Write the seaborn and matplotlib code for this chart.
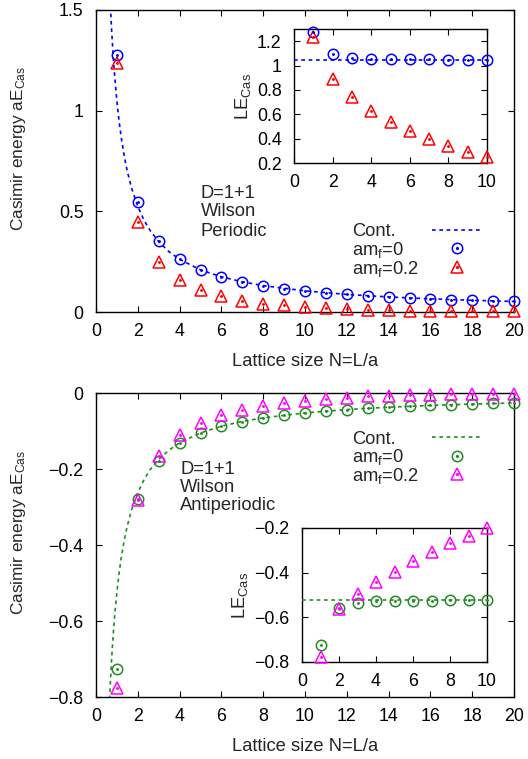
import numpy as np
import pandas as pd
import matplotlib
matplotlib.use("Agg")
import matplotlib.pyplot as plt
import seaborn as sns
from matplotlib.lines import Line2D

# ---------------- data ----------------
N = list(range(1, 21))
N_inset = list(range(1, 11))

# Periodic: L*E_Cas (inset values) and E_Cas
per_LE_m0 = [1.276, 1.096, 1.066, 1.057, 1.053, 1.051, 1.050, 1.049, 1.049, 1.048]
per_LE_m02 = [1.235, 0.889, 0.738, 0.626, 0.539, 0.460, 0.394, 0.339, 0.293, 0.247]
per_E_m0 = [1.276, 0.548, 0.355, 0.264, 0.211, 0.175, 0.150, 0.131, 0.1165, 0.1048,
            0.0952, 0.0873, 0.0806, 0.0748, 0.0698, 0.0655, 0.0616, 0.0582, 0.0551, 0.0524]
per_E_m02 = [1.235, 0.445, 0.246, 0.157, 0.108, 0.077, 0.056, 0.042, 0.033, 0.025,
             0.019, 0.015, 0.012, 0.0093, 0.0073, 0.0059, 0.0047, 0.0038, 0.0031, 0.0025]

# Antiperiodic
ap_LE_m0 = [-0.725, -0.557, -0.537, -0.529, -0.526, -0.525, -0.525, -0.524, -0.524, -0.524]
ap_LE_m02 = [-0.777, -0.561, -0.496, -0.443, -0.395, -0.349, -0.306, -0.269, -0.234, -0.200]
ap_E_m0 = [-0.725, -0.279, -0.179, -0.132, -0.105, -0.0875, -0.075, -0.0655, -0.0582, -0.0524,
           -0.0476, -0.0437, -0.0403, -0.0374, -0.0349, -0.0327, -0.0308, -0.0291, -0.0276, -0.0262]
ap_E_m02 = [-0.777, -0.281, -0.165, -0.111, -0.079, -0.058, -0.044, -0.034, -0.026, -0.020,
            -0.0155, -0.012, -0.0092, -0.0071, -0.0057, -0.0044, -0.0034, -0.0027, -0.0021, -0.0017]

# Continuum curves (sampled values)
cont_N = [0.65, 0.7, 0.75, 0.8, 0.85, 0.9, 1.0, 1.1, 1.2, 1.3, 1.4, 1.5, 1.7, 2.0, 2.3, 2.6,
          3.0, 3.5, 4.0, 5.0, 6.0, 7.0, 8.0, 10.0, 12.0, 14.0, 16.0, 18.0, 20.0]
cont_per = [1.611, 1.496, 1.396, 1.309, 1.232, 1.164, 1.047, 0.952, 0.873, 0.806, 0.748, 0.698,
            0.616, 0.524, 0.455, 0.403, 0.349, 0.299, 0.262, 0.209, 0.175, 0.150, 0.131,
            0.105, 0.0873, 0.0748, 0.0654, 0.0582, 0.0524]
cont_ap = [-0.806, -0.748, -0.698, -0.654, -0.616, -0.582, -0.524, -0.476, -0.436, -0.403,
           -0.374, -0.349, -0.308, -0.262, -0.228, -0.201, -0.175, -0.150, -0.131, -0.105,
           -0.0873, -0.0748, -0.0654, -0.0524, -0.0436, -0.0374, -0.0327, -0.0291, -0.0262]
cont_LE_per = 1.047
cont_LE_ap = -0.5236

legend_labels = ['Cont.', 'am$_{\\mathrm{f}}$=0', 'am$_{\\mathrm{f}}$=0.2']

# ---------------- style ----------------
sns.set_theme(style="ticks")
plt.rcParams['font.family'] = ['Liberation Sans', 'DejaVu Sans']
plt.rcParams['mathtext.fontset'] = 'custom'
plt.rcParams['mathtext.rm'] = 'Liberation Sans'
plt.rcParams['mathtext.it'] = 'Liberation Sans:italic'
plt.rcParams['axes.unicode_minus'] = True

FS = 13.2      # text
TFS = 12.8     # tick labels
YFS = 12.4     # y labels
BLUE, RED, GREEN, MAG = '#0000ff', '#ff0000', '#228b22', '#ff00ff'
MS = 7.5
DASH = (0, (2.2, 2.2))

fig = plt.figure(figsize=(5.28, 7.59), dpi=100)
W, H = 528, 759


def rect(x0, y0, x1, y1):
    return [x0 / W, 1 - y1 / H, (x1 - x0) / W, (y1 - y0) / H]


def fx(x):
    return x / W


def fy(y):
    return 1 - y / H


def style_axes(ax, xlim, ylim, xticks, yticks):
    ax.set_xlim(*xlim)
    ax.set_ylim(*ylim)
    ax.set_xticks(xticks)
    ax.set_yticks(yticks)
    ax.tick_params(direction='in', top=True, right=True, length=4, width=0.8,
                   labelsize=TFS, colors='black')
    ax.tick_params(axis='x', pad=8)
    ax.tick_params(axis='y', pad=9)
    for s in ax.spines.values():
        s.set_visible(True)
        s.set_linewidth(1.0)
        s.set_color('black')
    ax.set_facecolor('none')


def fmt(v):
    return ('%g' % v).replace('-', '\u2212')


def draw_points(ax, x, y, color, marker):
    df = pd.DataFrame({'x': x, 'y': y})
    sns.lineplot(data=df, x='x', y='y', ax=ax, linestyle='none', marker=marker,
                 markersize=MS if marker == 'o' else MS + 0.5, markerfacecolor='none',
                 markeredgecolor=color, markeredgewidth=1.1, color=color,
                 legend=False, clip_on=False, zorder=4)
    sns.lineplot(data=df, x='x', y='y', ax=ax, linestyle='none', marker='o',
                 markersize=1.3, markerfacecolor=color, markeredgecolor=color,
                 color=color, legend=False, clip_on=False, zorder=5)


def draw_cont(ax, x, y, color):
    df = pd.DataFrame({'x': x, 'y': y})
    sns.lineplot(data=df, x='x', y='y', ax=ax, color=color, linewidth=1.2,
                 linestyle=DASH, legend=False, zorder=3)


def draw_legend(x_text, y_rows, x_sample, color_line, color_c, color_t):
    # texts (left aligned, baseline at centre + 6.5 px)
    for lab, yc in zip(legend_labels, y_rows):
        fig.text(fx(x_text), fy(yc + 6.5), lab, fontsize=FS, ha='left', va='baseline')
    x0, x1 = x_sample
    xm = 0.5 * (x0 + x1)
    fig.add_artist(Line2D([fx(x0), fx(x1)], [fy(y_rows[0])] * 2, color=color_line,
                          linewidth=1.2, linestyle=DASH, transform=fig.transFigure))
    fig.add_artist(Line2D([fx(xm)], [fy(y_rows[1])], color=color_c, linestyle='none',
                          marker='o', markersize=MS, markerfacecolor='none',
                          markeredgewidth=1.1, transform=fig.transFigure))
    fig.add_artist(Line2D([fx(xm)], [fy(y_rows[1])], color=color_c, linestyle='none',
                          marker='o', markersize=1.3, transform=fig.transFigure))
    fig.add_artist(Line2D([fx(xm)], [fy(y_rows[2])], color=color_t, linestyle='none',
                          marker='^', markersize=MS + 0.5, markerfacecolor='none',
                          markeredgewidth=1.1, transform=fig.transFigure))
    fig.add_artist(Line2D([fx(xm)], [fy(y_rows[2])], color=color_t, linestyle='none',
                          marker='o', markersize=1.3, transform=fig.transFigure))


def draw_block(x_left, y_rows, lines):
    for t, yc in zip(lines, y_rows):
        fig.text(fx(x_left), fy(yc + 6.5), t, fontsize=FS, ha='left', va='baseline')


# ---------------- top main ----------------
ax1 = fig.add_axes(rect(96, 10, 514, 312))
draw_cont(ax1, cont_N, cont_per, BLUE)
draw_points(ax1, N, per_E_m0, BLUE, 'o')
draw_points(ax1, N, per_E_m02, RED, '^')
style_axes(ax1, (0, 20), (0, 1.5), range(0, 21, 2), [0, 0.5, 1, 1.5])
ax1.set_yticklabels(['0', '0.5', '1', '1.5'])
ax1.set_xlabel('Lattice size N=L/a', fontsize=FS, labelpad=9)
ax1.set_ylabel('Casimir energy aE$_{\\mathrm{Cas}}$', fontsize=YFS)
ax1.yaxis.set_label_coords(-0.163, 0.54)
draw_block(201, [191, 210, 229], ['D=1+1', 'Wilson', 'Periodic'])
draw_legend(352, [230, 248.5, 267], (432, 482), BLUE, BLUE, RED)

# ---------------- top inset ----------------
ax1i = fig.add_axes(rect(294, 29, 487, 163))
ax1i.plot([0, 10], [cont_LE_per, cont_LE_per], color=BLUE, linewidth=1.2,
          linestyle=DASH, zorder=3)
draw_points(ax1i, N_inset, per_LE_m0, BLUE, 'o')
draw_points(ax1i, N_inset, per_LE_m02, RED, '^')
style_axes(ax1i, (0, 10), (0.2, 1.3), range(0, 11, 2), [0.2, 0.4, 0.6, 0.8, 1.0, 1.2])
ax1i.set_yticklabels(['0.2', '0.4', '0.6', '0.8', '1', '1.2'])
ax1i.set_xlabel('')
ax1i.set_ylabel('LE$_{\\mathrm{Cas}}$', fontsize=FS, labelpad=3)

# ---------------- bottom main ----------------
ax2 = fig.add_axes(rect(96, 393, 514, 697))
draw_cont(ax2, cont_N, cont_ap, GREEN)
draw_points(ax2, N, ap_E_m0, GREEN, 'o')
draw_points(ax2, N, ap_E_m02, MAG, '^')
style_axes(ax2, (0, 20), (-0.8, 0), range(0, 21, 2), [-0.8, -0.6, -0.4, -0.2, 0])
ax2.set_yticklabels([fmt(v) for v in [-0.8, -0.6, -0.4, -0.2, 0]])
ax2.set_xlabel('Lattice size N=L/a', fontsize=FS, labelpad=9)
ax2.set_ylabel('Casimir energy aE$_{\\mathrm{Cas}}$', fontsize=YFS)
ax2.yaxis.set_label_coords(-0.163, 0.54)
draw_block(180, [467, 486, 504], ['D=1+1', 'Wilson', 'Antiperiodic'])
draw_legend(352, [437, 455.5, 474], (432, 482), GREEN, GREEN, MAG)

# ---------------- bottom inset ----------------
ax2i = fig.add_axes(rect(302, 528, 487, 662))
ax2i.plot([0, 10], [cont_LE_ap, cont_LE_ap], color=GREEN, linewidth=1.2,
          linestyle=DASH, zorder=3)
draw_points(ax2i, N_inset, ap_LE_m0, GREEN, 'o')
draw_points(ax2i, N_inset, ap_LE_m02, MAG, '^')
style_axes(ax2i, (0, 10), (-0.8, -0.2), range(0, 11, 2), [-0.8, -0.6, -0.4, -0.2])
ax2i.set_yticklabels([fmt(v) for v in [-0.8, -0.6, -0.4, -0.2]])
ax2i.set_xlabel('')
ax2i.set_ylabel('LE$_{\\mathrm{Cas}}$', fontsize=FS, labelpad=3)

fig.savefig('out.png', dpi=100)
